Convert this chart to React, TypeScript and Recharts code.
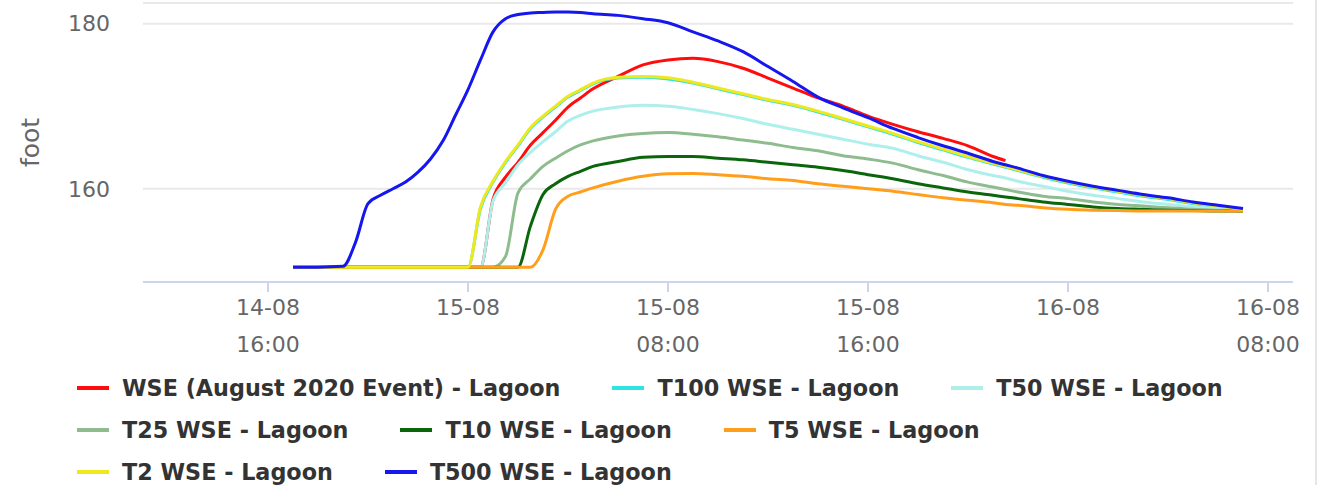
import React from "react";
import { LineChart, Line, XAxis, YAxis, CartesianGrid, Legend, Label } from "recharts";

// hours since 14-08 00:00
const hours = [
  17, 18, 19, 19.5, 20, 20.5, 21, 21.5, 22, 22.5, 23, 23.5, 24, 24.5, 25, 25.5, 26, 26.5, 27, 27.5,
  28, 28.5, 29, 30, 31, 32, 33, 34, 35, 36, 37, 38, 39, 40, 41, 42, 43, 44, 45, 45.5,
  46, 47, 48, 49, 50, 51, 52, 53, 54, 55,
];

const wseAug2020 = [
  150.5, 150.5, 150.5, 150.5, 150.5, 150.5, 150.5, 150.5, 150.5, 150.5, 150.5, 150.5, 150.5, 150.5, 158.7, 161.4, 163.2, 165.3, 166.8, 168.3,
  169.9, 171.0, 172.1, 173.6, 175.0, 175.6, 175.8, 175.4, 174.6, 173.4, 172.2, 171.0, 170.0, 168.8, 167.8, 166.9, 166.1, 165.2, 163.9, 163.4,
  null, null, null, null, null, null, null, null, null, null,
];

const t2 = [
  150.5, 150.5, 150.5, 150.5, 150.5, 150.5, 150.5, 150.5, 150.5, 150.5, 150.5, 150.5, 150.5, 157.8, 160.9, 163.3, 165.3, 167.4, 168.8, 170.0,
  171.2, 172.0, 172.8, 173.5, 173.6, 173.45, 172.9, 172.2, 171.5, 170.8, 170.2, 169.4, 168.5, 167.6, 166.7, 165.7, 164.8, 163.9, 163.1, 162.7,
  162.3, 161.5, 160.8, 160.2, 159.7, 159.2, 158.8, 158.3, 157.9, 157.5,
];

const t100 = [
  150.5, 150.5, 150.5, 150.5, 150.5, 150.5, 150.5, 150.5, 150.5, 150.5, 150.5, 150.5, 150.5, 157.6, 160.8, 163.2, 165.2, 167.3, 168.7, 169.9,
  171.1, 171.9, 172.7, 173.4, 173.5, 173.3, 172.8, 172.1, 171.4, 170.7, 170.1, 169.3, 168.4, 167.5, 166.6, 165.6, 164.7, 163.8, 163.0, 162.6,
  162.2, 161.4, 160.7, 160.1, 159.6, 159.1, 158.7, 158.2, 157.8, 157.5,
];

const t50 = [
  150.5, 150.5, 150.5, 150.5, 150.5, 150.5, 150.5, 150.5, 150.5, 150.5, 150.5, 150.5, 150.5, 150.5, 158.5, 160.7, 162.9, 164.4, 165.7, 166.9,
  168.2, 168.9, 169.4, 169.9, 170.1, 170.0, 169.6, 169.1, 168.5, 167.8, 167.2, 166.6, 166.0, 165.4, 164.9, 164.0, 163.2, 162.3, 161.6, 161.3,
  160.9, 160.3, 159.7, 159.2, 158.8, 158.4, 158.1, 157.8, 157.6, 157.4,
];

const t25 = [
  150.5, 150.5, 150.5, 150.5, 150.5, 150.5, 150.5, 150.5, 150.5, 150.5, 150.5, 150.5, 150.5, 150.5, 150.5, 151.8, 159.5, 161.2, 162.7, 163.7,
  164.6, 165.3, 165.8, 166.4, 166.7, 166.8, 166.6, 166.3, 165.9, 165.5, 165.0, 164.6, 164.0, 163.6, 163.1, 162.3, 161.6, 160.8, 160.2, 159.9,
  159.6, 159.1, 158.8, 158.4, 158.1, 157.9, 157.7, 157.5, 157.4, 157.3,
];

const t10 = [
  150.5, 150.5, 150.5, 150.5, 150.5, 150.5, 150.5, 150.5, 150.5, 150.5, 150.5, 150.5, 150.5, 150.5, 150.5, 150.5, 150.5, 155.5, 159.3, 160.6,
  161.5, 162.1, 162.7, 163.3, 163.8, 163.9, 163.9, 163.7, 163.5, 163.2, 162.9, 162.6, 162.2, 161.7, 161.2, 160.6, 160.1, 159.6, 159.2, 159.0,
  158.8, 158.4, 158.1, 157.8, 157.6, 157.5, 157.4, 157.35, 157.3, 157.3,
];

const t5 = [
  150.5, 150.5, 150.5, 150.5, 150.5, 150.5, 150.5, 150.5, 150.5, 150.5, 150.5, 150.5, 150.5, 150.5, 150.5, 150.5, 150.5, 150.5, 152.6, 157.5,
  159.1, 159.6, 160.1, 160.9, 161.5, 161.8, 161.85, 161.7, 161.5, 161.2, 161.0, 160.6, 160.3, 160.0, 159.7, 159.3, 158.9, 158.6, 158.3, 158.1,
  158.0, 157.7, 157.5, 157.4, 157.35, 157.3, 157.3, 157.3, 157.3, 157.3,
];

const t500 = [
  150.5, 150.5, 150.6, 153.5, 158.2, 159.2, 160.0, 160.8, 162.0, 163.6, 165.8, 168.9, 172.0, 175.6, 179.0, 180.6, 181.1, 181.3, 181.35, 181.4,
  181.4, 181.35, 181.2, 181.0, 180.6, 180.1, 179.0, 177.9, 176.6, 174.8, 173.0, 171.1, 169.8, 168.6, 167.3, 166.2, 165.2, 164.3, 163.3, 162.9,
  162.5, 161.6, 160.9, 160.3, 159.8, 159.3, 158.9, 158.4, 158.0, 157.6,
];

const seriesNames = [
  "WSE (August 2020 Event) - Lagoon",
  "T100 WSE - Lagoon",
  "T50 WSE - Lagoon",
  "T25 WSE - Lagoon",
  "T10 WSE - Lagoon",
  "T5 WSE - Lagoon",
  "T2 WSE - Lagoon",
  "T500 WSE - Lagoon",
];
const seriesValues = [wseAug2020, t100, t50, t25, t10, t5, t2, t500];
const seriesColors = ["#ff0d0d", "#2fe3e3", "#aeefec", "#8fbc8f", "#0b650b", "#ff9e1b", "#eee81e", "#1616ee"];

const tickHours = [16, 24, 32, 40, 48, 56];
const tickDates = ["14-08", "15-08", "15-08", "15-08", "16-08", "16-08"];
const tickTimes = ["16:00", "", "08:00", "16:00", "", "08:00"];
const yTicks = [160, 180];

const legendRows = [[0, 1, 2], [3, 4, 5], [6, 7]];

const data = hours.map((h, i) => {
  const row: any = { t: h };
  seriesValues.forEach((vals, s) => {
    row["s" + s] = vals[i];
  });
  return row;
});

const FONT = "'DejaVu Sans', Verdana, sans-serif";

const XTick = (props: any) => {
  const { x, y, payload } = props;
  const idx = tickHours.indexOf(payload.value);
  return (
    <g>
      <text x={x} y={y} dy={23} textAnchor="middle" fill="#666" fontSize={22} fontFamily={FONT}>
        {tickDates[idx]}
      </text>
      {tickTimes[idx] ? (
        <text x={x} y={y} dy={60} textAnchor="middle" fill="#666" fontSize={22} fontFamily={FONT}>
          {tickTimes[idx]}
        </text>
      ) : null}
    </g>
  );
};

const renderLegend = () => (
  <div style={{ height: 130, paddingTop: 12, boxSizing: "border-box", fontFamily: FONT }}>
    {legendRows.map((row, r) => (
      <div key={r} style={{ display: "flex", alignItems: "center", height: 42, paddingLeft: 77 }}>
        {row.map((s) => (
          <div key={s} style={{ display: "flex", alignItems: "center", marginRight: 52 }}>
            <span style={{ display: "inline-block", width: 32, height: 4, background: seriesColors[s], marginRight: 13 }} />
            <span style={{ fontSize: 22.3, fontWeight: "bold", color: "#333", whiteSpace: "nowrap" }}>{seriesNames[s]}</span>
          </div>
        ))}
      </div>
    ))}
  </div>
);

export default function App() {
  return (
    <div style={{ position: "absolute", left: 0, top: 0, width: 1315, height: 485, borderRight: "2px solid #e6e6e6", background: "#fff" }}>
      <LineChart width={1315} height={485} data={data} margin={{ top: 3, right: 22, bottom: 0, left: 0 }}>
        <CartesianGrid vertical={false} stroke="#e9e9e9" strokeWidth={2} />
        <XAxis
          dataKey="t"
          type="number"
          domain={[11, 57]}
          ticks={tickHours}
          interval={0}
          height={73}
          tick={<XTick />}
          tickSize={10}
          tickMargin={0}
          axisLine={{ stroke: "#ccd6eb", strokeWidth: 2 }}
          tickLine={{ stroke: "#ccd6eb", strokeWidth: 2 }}
          allowDataOverflow
        />
        <YAxis
          type="number"
          domain={[148.7, 182.5]}
          ticks={yTicks}
          width={143}
          axisLine={false}
          tickLine={false}
          tickSize={0}
          tickMargin={33}
          tick={{ fill: "#666", fontSize: 22, fontFamily: FONT }}
          allowDataOverflow
        >
          <Label
            content={(p: any) => {
              const vb = p.viewBox || {};
              const cy = vb.y + vb.height / 2;
              return (
                <text x={30} y={cy} transform={`rotate(-90 30 ${cy})`} textAnchor="middle" dominantBaseline="central" fill="#666" fontSize={25} fontFamily={FONT}>
                  foot
                </text>
              );
            }}
          />
        </YAxis>
        <Legend verticalAlign="bottom" content={renderLegend} />
        {seriesNames.map((name, s) => (
          <Line
            key={name}
            dataKey={"s" + s}
            name={name}
            type="monotone"
            stroke={seriesColors[s]}
            strokeWidth={3}
            dot={false}
            activeDot={false}
            connectNulls={false}
            isAnimationActive={false}
          />
        ))}
      </LineChart>
    </div>
  );
}
